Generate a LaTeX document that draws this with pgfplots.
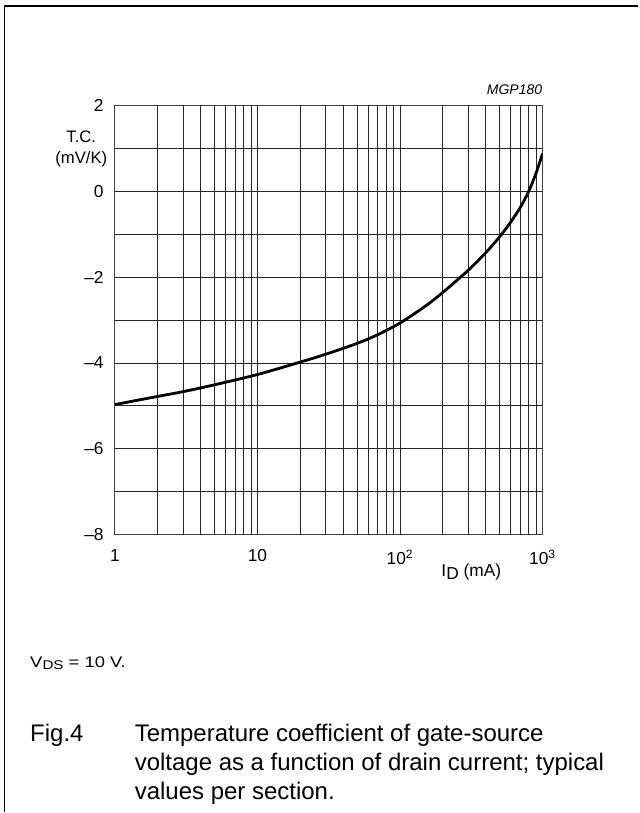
\documentclass[border=0pt]{standalone}
\usepackage{fontspec}
\setmainfont{Liberation Sans}
\usepackage{pgfplots}
\pgfplotsset{compat=1.18}
\begin{document}
\begin{tikzpicture}
\path (0,0) rectangle (479.25pt,609.75pt);
\draw[line width=1.1pt] (3.2pt,0) -- (3.2pt,605.25pt) -- (479.25pt,605.25pt);
\begin{axis}[
  at={(86.25pt,208.5pt)}, anchor=south west,
  width=321pt, height=322pt, scale only axis,
  xmode=log, xmin=1, xmax=1000,
  ymin=-8, ymax=2,
  xtick={1,10,100,1000},
  xticklabels={1,10,10\textsuperscript{2},10\textsuperscript{3}},
  ytick={-8,-6,-4,-2,0,2},
  yticklabels={\textendash 8,\textendash 6,\textendash 4,\textendash 2,0,2},
  minor ytick={-7,-5,-3,-1,1},
  grid=both,
  major grid style={black!85, line width=0.6pt},
  minor grid style={black!85, line width=0.6pt},
  axis line style={black!75, line width=0.8pt},
  major tick length=0pt, minor tick length=0pt,
  tick label style={font=\fontsize{13}{15}\selectfont},
  /pgf/number format/assume math mode=true,
  yticklabel style={xshift=-5pt},
  xticklabel style={yshift=-8pt},
]
\addplot[black, line width=2.1pt, smooth, tension=0.5] coordinates {
(1,-4.97) (2,-4.78) (3,-4.67) (5,-4.51) (10,-4.27) (20,-3.98) (30,-3.80)
(50,-3.545) (70,-3.34) (100,-3.07) (150,-2.68) (200,-2.355) (300,-1.845)
(400,-1.43) (500,-1.06) (600,-0.71) (700,-0.37) (800,0.0) (900,0.42) (1000,0.88)
};
\end{axis}
\node[align=center, font=\fontsize{12.5}{15.75}\selectfont] at (61pt,498pt) {T.C.\\(mV/K)};
\node[anchor=east, font=\fontsize{10.5}{12}\itshape] at (410.5pt,542.25pt) {MGP180};
\node[font=\fontsize{13}{14}\selectfont] at (353.8pt,180.5pt) {I\raisebox{-0.35ex}{D} (mA)};
\node[anchor=base west, inner sep=0pt, font=\fontsize{11.5}{14}\selectfont] at (22.5pt,108.75pt) {\scalebox{1.2}[1]{V\raisebox{-0.3ex}{\fontsize{9.5}{10}\selectfont DS} = 10 V.}};
\begin{scope}[every node/.style={anchor=base west, inner sep=0pt, font=\fontsize{18}{21.75}\selectfont}]
\node at (22.5pt,53.25pt) {Fig.4};
\node at (101pt,53.25pt) {Temperature coefficient of gate-source};
\node at (101pt,31.5pt) {voltage as a function of drain current; typical};
\node at (101pt,9.75pt) {values per section.};
\end{scope}
\end{tikzpicture}
\end{document}
